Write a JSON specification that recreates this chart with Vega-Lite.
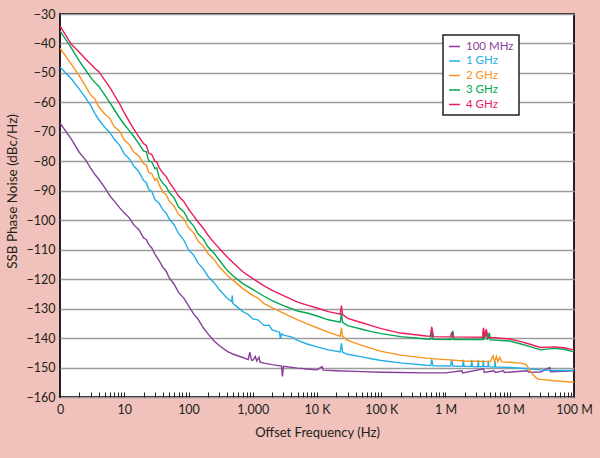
{
  "$schema": "https://vega.github.io/schema/vega-lite/v6.json",
  "width": 514,
  "height": 383,
  "autosize": {"type": "none"},
  "padding": {"left": 60, "top": 14, "right": 26, "bottom": 61},
  "background": "#f0c2bb",
  "config": {
    "view": {"fill": "white", "stroke": "#231f20", "strokeWidth": 2},
    "font": "Lato"
  },
  "data": {
    "values": [
      {"s":"100 MHz","f":1,"v":-67},{"s":"100 MHz","f":1.5,"v":-72.5},{"s":"100 MHz","f":2,"v":-77},{"s":"100 MHz","f":2.5,"v":-79.5},{"s":"100 MHz","f":3,"v":-82.3},{"s":"100 MHz","f":3.5,"v":-84.5},{"s":"100 MHz","f":4,"v":-86},{"s":"100 MHz","f":5,"v":-89},{"s":"100 MHz","f":6,"v":-91.8},{"s":"100 MHz","f":7,"v":-93.5},{"s":"100 MHz","f":8.5,"v":-95.8},{"s":"100 MHz","f":10,"v":-97.5},{"s":"100 MHz","f":12,"v":-99.2},{"s":"100 MHz","f":14,"v":-101.5},{"s":"100 MHz","f":17,"v":-103.3},{"s":"100 MHz","f":20,"v":-106},{"s":"100 MHz","f":22,"v":-106.5},{"s":"100 MHz","f":24,"v":-108.2},{"s":"100 MHz","f":27,"v":-109.5},{"s":"100 MHz","f":30,"v":-111.5},{"s":"100 MHz","f":35,"v":-113.8},{"s":"100 MHz","f":40,"v":-116},{"s":"100 MHz","f":45,"v":-117.3},{"s":"100 MHz","f":50,"v":-119.5},{"s":"100 MHz","f":60,"v":-121.8},{"s":"100 MHz","f":70,"v":-124.5},{"s":"100 MHz","f":85,"v":-126.5},{"s":"100 MHz","f":100,"v":-129},{"s":"100 MHz","f":120,"v":-131.8},{"s":"100 MHz","f":140,"v":-133.5},{"s":"100 MHz","f":170,"v":-136.5},{"s":"100 MHz","f":200,"v":-138.5},{"s":"100 MHz","f":250,"v":-141},{"s":"100 MHz","f":300,"v":-142.5},{"s":"100 MHz","f":400,"v":-144.5},{"s":"100 MHz","f":500,"v":-145.5},{"s":"100 MHz","f":700,"v":-146.6},{"s":"100 MHz","f":850,"v":-147.3},{"s":"100 MHz","f":900,"v":-144.8},{"s":"100 MHz","f":950,"v":-147.4},{"s":"100 MHz","f":1000,"v":-147.6},{"s":"100 MHz","f":1100,"v":-146.2},{"s":"100 MHz","f":1150,"v":-147.8},{"s":"100 MHz","f":1250,"v":-146.5},{"s":"100 MHz","f":1300,"v":-148.2},{"s":"100 MHz","f":1500,"v":-148.5},{"s":"100 MHz","f":2000,"v":-149},{"s":"100 MHz","f":2800,"v":-149.5},{"s":"100 MHz","f":2900,"v":-153},{"s":"100 MHz","f":3000,"v":-149.6},{"s":"100 MHz","f":5000,"v":-150.2},{"s":"100 MHz","f":7000,"v":-150.5},{"s":"100 MHz","f":10000,"v":-150.8},{"s":"100 MHz","f":12000,"v":-149.7},{"s":"100 MHz","f":12500,"v":-150.9},{"s":"100 MHz","f":20000,"v":-151.1},{"s":"100 MHz","f":50000,"v":-151.4},{"s":"100 MHz","f":100000,"v":-151.6},{"s":"100 MHz","f":200000,"v":-151.7},{"s":"100 MHz","f":500000,"v":-151.8},{"s":"100 MHz","f":1000000,"v":-151.8},{"s":"100 MHz","f":1800000,"v":-151.1},{"s":"100 MHz","f":1850000,"v":-151.8},{"s":"100 MHz","f":3900000,"v":-150.4},{"s":"100 MHz","f":4000000,"v":-151.7},{"s":"100 MHz","f":5700000,"v":-151.1},{"s":"100 MHz","f":6000000,"v":-151.7},{"s":"100 MHz","f":8000000,"v":-151.1},{"s":"100 MHz","f":8300000,"v":-151.7},{"s":"100 MHz","f":19000000,"v":-151.1},{"s":"100 MHz","f":20000000,"v":-151.6},{"s":"100 MHz","f":30000000,"v":-151.5},{"s":"100 MHz","f":42000000,"v":-150},{"s":"100 MHz","f":43000000,"v":-151.4},{"s":"100 MHz","f":100000000,"v":-151.1},

      {"s":"1 GHz","f":1,"v":-48},{"s":"1 GHz","f":1.5,"v":-52},{"s":"1 GHz","f":2,"v":-55.5},{"s":"1 GHz","f":2.5,"v":-58.5},{"s":"1 GHz","f":3,"v":-61},{"s":"1 GHz","f":3.5,"v":-63.8},{"s":"1 GHz","f":4,"v":-65.8},{"s":"1 GHz","f":5,"v":-68.5},{"s":"1 GHz","f":6,"v":-70.3},{"s":"1 GHz","f":7,"v":-72.5},{"s":"1 GHz","f":8.5,"v":-74.6},{"s":"1 GHz","f":10,"v":-77.5},{"s":"1 GHz","f":12,"v":-79.2},{"s":"1 GHz","f":14,"v":-81.5},{"s":"1 GHz","f":17,"v":-83.6},{"s":"1 GHz","f":20,"v":-86.5},{"s":"1 GHz","f":22,"v":-87.2},{"s":"1 GHz","f":24,"v":-89.5},{"s":"1 GHz","f":27,"v":-90.3},{"s":"1 GHz","f":30,"v":-93},{"s":"1 GHz","f":35,"v":-94.3},{"s":"1 GHz","f":40,"v":-96.5},{"s":"1 GHz","f":45,"v":-97.6},{"s":"1 GHz","f":50,"v":-99.5},{"s":"1 GHz","f":60,"v":-101.6},{"s":"1 GHz","f":70,"v":-104.5},{"s":"1 GHz","f":85,"v":-106.8},{"s":"1 GHz","f":100,"v":-110},{"s":"1 GHz","f":120,"v":-111.8},{"s":"1 GHz","f":140,"v":-114.5},{"s":"1 GHz","f":170,"v":-116.5},{"s":"1 GHz","f":200,"v":-119},{"s":"1 GHz","f":250,"v":-121.2},{"s":"1 GHz","f":300,"v":-123.5},{"s":"1 GHz","f":400,"v":-126.5},{"s":"1 GHz","f":470,"v":-127.6},{"s":"1 GHz","f":480,"v":-125.6},{"s":"1 GHz","f":490,"v":-128.2},{"s":"1 GHz","f":700,"v":-131},{"s":"1 GHz","f":850,"v":-132},{"s":"1 GHz","f":1000,"v":-133.5},{"s":"1 GHz","f":1200,"v":-133.8},{"s":"1 GHz","f":1500,"v":-135.7},{"s":"1 GHz","f":1800,"v":-135.6},{"s":"1 GHz","f":2000,"v":-137.2},{"s":"1 GHz","f":2600,"v":-138},{"s":"1 GHz","f":2700,"v":-140.3},{"s":"1 GHz","f":2800,"v":-138.5},{"s":"1 GHz","f":3000,"v":-139},{"s":"1 GHz","f":4000,"v":-139.6},{"s":"1 GHz","f":5000,"v":-140.8},{"s":"1 GHz","f":7000,"v":-142},{"s":"1 GHz","f":10000,"v":-143},{"s":"1 GHz","f":15000,"v":-144},{"s":"1 GHz","f":23000,"v":-144.7},{"s":"1 GHz","f":24000,"v":-141.8},{"s":"1 GHz","f":25000,"v":-144.8},{"s":"1 GHz","f":30000,"v":-145.5},{"s":"1 GHz","f":50000,"v":-146.4},{"s":"1 GHz","f":70000,"v":-147},{"s":"1 GHz","f":100000,"v":-147.6},{"s":"1 GHz","f":200000,"v":-148.4},{"s":"1 GHz","f":500000,"v":-149.2},{"s":"1 GHz","f":590000,"v":-149.3},{"s":"1 GHz","f":610000,"v":-147.2},{"s":"1 GHz","f":640000,"v":-149.4},{"s":"1 GHz","f":1200000,"v":-149.5},{"s":"1 GHz","f":1250000,"v":-147.3},{"s":"1 GHz","f":1300000,"v":-149.5},{"s":"1 GHz","f":1850000,"v":-149.6},{"s":"1 GHz","f":1890000,"v":-147.4},{"s":"1 GHz","f":1950000,"v":-149.6},{"s":"1 GHz","f":2500000,"v":-149.6},{"s":"1 GHz","f":2560000,"v":-147.4},{"s":"1 GHz","f":2620000,"v":-149.6},{"s":"1 GHz","f":3180000,"v":-149.7},{"s":"1 GHz","f":3240000,"v":-147.5},{"s":"1 GHz","f":3300000,"v":-149.7},{"s":"1 GHz","f":3820000,"v":-149.7},{"s":"1 GHz","f":3880000,"v":-147.5},{"s":"1 GHz","f":3940000,"v":-149.7},{"s":"1 GHz","f":4580000,"v":-149.7},{"s":"1 GHz","f":4640000,"v":-147.6},{"s":"1 GHz","f":4700000,"v":-149.7},{"s":"1 GHz","f":5800000,"v":-149.8},{"s":"1 GHz","f":5900000,"v":-147.8},{"s":"1 GHz","f":6000000,"v":-149.8},{"s":"1 GHz","f":10000000,"v":-150},{"s":"1 GHz","f":20000000,"v":-150.4},{"s":"1 GHz","f":30000000,"v":-150.8},{"s":"1 GHz","f":50000000,"v":-151},{"s":"1 GHz","f":100000000,"v":-151},

      {"s":"2 GHz","f":1,"v":-41.6},{"s":"2 GHz","f":1.5,"v":-47},{"s":"2 GHz","f":2,"v":-51},{"s":"2 GHz","f":2.5,"v":-54.5},{"s":"2 GHz","f":3,"v":-57.5},{"s":"2 GHz","f":3.5,"v":-58.8},{"s":"2 GHz","f":4,"v":-61.5},{"s":"2 GHz","f":5,"v":-64},{"s":"2 GHz","f":6,"v":-65.5},{"s":"2 GHz","f":7,"v":-68.3},{"s":"2 GHz","f":8.5,"v":-69.8},{"s":"2 GHz","f":10,"v":-72.8},{"s":"2 GHz","f":12,"v":-74.3},{"s":"2 GHz","f":14,"v":-76.8},{"s":"2 GHz","f":17,"v":-78.3},{"s":"2 GHz","f":20,"v":-80.8},{"s":"2 GHz","f":22,"v":-81.2},{"s":"2 GHz","f":24,"v":-83.8},{"s":"2 GHz","f":27,"v":-84.2},{"s":"2 GHz","f":30,"v":-86.5},{"s":"2 GHz","f":32,"v":-85.8},{"s":"2 GHz","f":35,"v":-88},{"s":"2 GHz","f":40,"v":-90.5},{"s":"2 GHz","f":45,"v":-91.3},{"s":"2 GHz","f":50,"v":-93.5},{"s":"2 GHz","f":60,"v":-95.3},{"s":"2 GHz","f":70,"v":-98},{"s":"2 GHz","f":85,"v":-99.6},{"s":"2 GHz","f":100,"v":-102.5},{"s":"2 GHz","f":120,"v":-104.2},{"s":"2 GHz","f":140,"v":-107},{"s":"2 GHz","f":170,"v":-108.8},{"s":"2 GHz","f":200,"v":-111.3},{"s":"2 GHz","f":250,"v":-113.3},{"s":"2 GHz","f":300,"v":-115.8},{"s":"2 GHz","f":400,"v":-118.7},{"s":"2 GHz","f":500,"v":-120.5},{"s":"2 GHz","f":700,"v":-123.2},{"s":"2 GHz","f":1000,"v":-125.5},{"s":"2 GHz","f":1200,"v":-126.4},{"s":"2 GHz","f":1500,"v":-128.3},{"s":"2 GHz","f":2000,"v":-129.7},{"s":"2 GHz","f":3000,"v":-131.5},{"s":"2 GHz","f":5000,"v":-133.8},{"s":"2 GHz","f":7000,"v":-135.2},{"s":"2 GHz","f":10000,"v":-136.5},{"s":"2 GHz","f":15000,"v":-138},{"s":"2 GHz","f":23000,"v":-139.4},{"s":"2 GHz","f":24000,"v":-136.5},{"s":"2 GHz","f":25000,"v":-139.5},{"s":"2 GHz","f":30000,"v":-140.8},{"s":"2 GHz","f":50000,"v":-142.5},{"s":"2 GHz","f":70000,"v":-143.5},{"s":"2 GHz","f":100000,"v":-144.5},{"s":"2 GHz","f":200000,"v":-145.8},{"s":"2 GHz","f":500000,"v":-146.8},{"s":"2 GHz","f":1000000,"v":-147.3},{"s":"2 GHz","f":2000000,"v":-147.8},{"s":"2 GHz","f":5000000,"v":-148},{"s":"2 GHz","f":5500000,"v":-146},{"s":"2 GHz","f":5800000,"v":-148},{"s":"2 GHz","f":6200000,"v":-146.2},{"s":"2 GHz","f":6500000,"v":-148},{"s":"2 GHz","f":7000000,"v":-146.5},{"s":"2 GHz","f":7500000,"v":-148.1},{"s":"2 GHz","f":10000000,"v":-148.2},{"s":"2 GHz","f":15000000,"v":-148.5},{"s":"2 GHz","f":18000000,"v":-149},{"s":"2 GHz","f":20000000,"v":-150.5},{"s":"2 GHz","f":23000000,"v":-152.5},{"s":"2 GHz","f":27000000,"v":-153.8},{"s":"2 GHz","f":30000000,"v":-154},{"s":"2 GHz","f":50000000,"v":-154.5},{"s":"2 GHz","f":100000000,"v":-155},

      {"s":"3 GHz","f":1,"v":-35.7},{"s":"3 GHz","f":1.5,"v":-41.5},{"s":"3 GHz","f":2,"v":-46},{"s":"3 GHz","f":2.5,"v":-49},{"s":"3 GHz","f":3,"v":-51.5},{"s":"3 GHz","f":3.5,"v":-53.3},{"s":"3 GHz","f":4,"v":-54.5},{"s":"3 GHz","f":5,"v":-57.5},{"s":"3 GHz","f":6,"v":-60.2},{"s":"3 GHz","f":7,"v":-62.5},{"s":"3 GHz","f":8.5,"v":-65.3},{"s":"3 GHz","f":10,"v":-67.5},{"s":"3 GHz","f":12,"v":-69.6},{"s":"3 GHz","f":14,"v":-71.5},{"s":"3 GHz","f":17,"v":-74.2},{"s":"3 GHz","f":20,"v":-76.5},{"s":"3 GHz","f":22,"v":-76.8},{"s":"3 GHz","f":24,"v":-79.8},{"s":"3 GHz","f":27,"v":-80.3},{"s":"3 GHz","f":30,"v":-82.5},{"s":"3 GHz","f":32,"v":-82.2},{"s":"3 GHz","f":35,"v":-85.6},{"s":"3 GHz","f":40,"v":-87.5},{"s":"3 GHz","f":45,"v":-88.6},{"s":"3 GHz","f":50,"v":-90.5},{"s":"3 GHz","f":60,"v":-92.5},{"s":"3 GHz","f":70,"v":-95.5},{"s":"3 GHz","f":85,"v":-97.2},{"s":"3 GHz","f":100,"v":-100},{"s":"3 GHz","f":120,"v":-101.9},{"s":"3 GHz","f":140,"v":-104.5},{"s":"3 GHz","f":170,"v":-106.4},{"s":"3 GHz","f":200,"v":-109},{"s":"3 GHz","f":250,"v":-111.2},{"s":"3 GHz","f":300,"v":-113.5},{"s":"3 GHz","f":400,"v":-117},{"s":"3 GHz","f":500,"v":-119},{"s":"3 GHz","f":700,"v":-121.5},{"s":"3 GHz","f":1000,"v":-123.5},{"s":"3 GHz","f":1500,"v":-125.8},{"s":"3 GHz","f":2000,"v":-127.3},{"s":"3 GHz","f":3000,"v":-129},{"s":"3 GHz","f":5000,"v":-130.8},{"s":"3 GHz","f":7000,"v":-131.5},{"s":"3 GHz","f":10000,"v":-132.5},{"s":"3 GHz","f":15000,"v":-133.8},{"s":"3 GHz","f":23000,"v":-134.6},{"s":"3 GHz","f":24000,"v":-131.5},{"s":"3 GHz","f":25000,"v":-134.7},{"s":"3 GHz","f":30000,"v":-135.8},{"s":"3 GHz","f":50000,"v":-137},{"s":"3 GHz","f":70000,"v":-137.8},{"s":"3 GHz","f":100000,"v":-138.5},{"s":"3 GHz","f":200000,"v":-139.5},{"s":"3 GHz","f":500000,"v":-140.3},{"s":"3 GHz","f":590000,"v":-140.4},{"s":"3 GHz","f":610000,"v":-137.5},{"s":"3 GHz","f":640000,"v":-140.4},{"s":"3 GHz","f":1250000,"v":-140.5},{"s":"3 GHz","f":1300000,"v":-137.5},{"s":"3 GHz","f":1350000,"v":-140.5},{"s":"3 GHz","f":3800000,"v":-140.5},{"s":"3 GHz","f":3900000,"v":-137.2},{"s":"3 GHz","f":4000000,"v":-140.5},{"s":"3 GHz","f":4300000,"v":-137.8},{"s":"3 GHz","f":4500000,"v":-140.6},{"s":"3 GHz","f":4800000,"v":-138.2},{"s":"3 GHz","f":5000000,"v":-140.6},{"s":"3 GHz","f":10000000,"v":-141},{"s":"3 GHz","f":15000000,"v":-142},{"s":"3 GHz","f":20000000,"v":-142.8},{"s":"3 GHz","f":30000000,"v":-144},{"s":"3 GHz","f":50000000,"v":-143.5},{"s":"3 GHz","f":70000000,"v":-143.8},{"s":"3 GHz","f":100000000,"v":-144.7},

      {"s":"4 GHz","f":1,"v":-34},{"s":"4 GHz","f":1.5,"v":-40.3},{"s":"4 GHz","f":2,"v":-43},{"s":"4 GHz","f":2.5,"v":-45.3},{"s":"4 GHz","f":3,"v":-47},{"s":"4 GHz","f":3.5,"v":-48.5},{"s":"4 GHz","f":4,"v":-49.5},{"s":"4 GHz","f":5,"v":-52.5},{"s":"4 GHz","f":6,"v":-55},{"s":"4 GHz","f":7,"v":-57.5},{"s":"4 GHz","f":8.5,"v":-60.5},{"s":"4 GHz","f":10,"v":-63.5},{"s":"4 GHz","f":12,"v":-66.5},{"s":"4 GHz","f":14,"v":-69},{"s":"4 GHz","f":17,"v":-71.8},{"s":"4 GHz","f":20,"v":-74},{"s":"4 GHz","f":22,"v":-74.6},{"s":"4 GHz","f":24,"v":-77.2},{"s":"4 GHz","f":27,"v":-77.8},{"s":"4 GHz","f":30,"v":-80},{"s":"4 GHz","f":32,"v":-80.2},{"s":"4 GHz","f":35,"v":-82.2},{"s":"4 GHz","f":40,"v":-84},{"s":"4 GHz","f":45,"v":-85.2},{"s":"4 GHz","f":50,"v":-87},{"s":"4 GHz","f":60,"v":-89.5},{"s":"4 GHz","f":70,"v":-91.8},{"s":"4 GHz","f":85,"v":-93.7},{"s":"4 GHz","f":100,"v":-96.2},{"s":"4 GHz","f":120,"v":-98.5},{"s":"4 GHz","f":140,"v":-100.5},{"s":"4 GHz","f":170,"v":-102.7},{"s":"4 GHz","f":200,"v":-105},{"s":"4 GHz","f":250,"v":-107.6},{"s":"4 GHz","f":300,"v":-109.5},{"s":"4 GHz","f":400,"v":-112.5},{"s":"4 GHz","f":500,"v":-114.5},{"s":"4 GHz","f":700,"v":-117.5},{"s":"4 GHz","f":1000,"v":-119.8},{"s":"4 GHz","f":1500,"v":-122.3},{"s":"4 GHz","f":2000,"v":-123.8},{"s":"4 GHz","f":3000,"v":-125.6},{"s":"4 GHz","f":5000,"v":-127.8},{"s":"4 GHz","f":7000,"v":-128.8},{"s":"4 GHz","f":10000,"v":-129.8},{"s":"4 GHz","f":15000,"v":-131},{"s":"4 GHz","f":23000,"v":-131.9},{"s":"4 GHz","f":24000,"v":-129},{"s":"4 GHz","f":25000,"v":-132},{"s":"4 GHz","f":30000,"v":-133.3},{"s":"4 GHz","f":50000,"v":-134.8},{"s":"4 GHz","f":70000,"v":-135.8},{"s":"4 GHz","f":100000,"v":-136.8},{"s":"4 GHz","f":200000,"v":-138.3},{"s":"4 GHz","f":500000,"v":-139.3},{"s":"4 GHz","f":580000,"v":-139.4},{"s":"4 GHz","f":610000,"v":-136.2},{"s":"4 GHz","f":650000,"v":-139.5},{"s":"4 GHz","f":1200000,"v":-139.6},{"s":"4 GHz","f":1250000,"v":-138},{"s":"4 GHz","f":1300000,"v":-139.6},{"s":"4 GHz","f":3800000,"v":-139.7},{"s":"4 GHz","f":3900000,"v":-136.5},{"s":"4 GHz","f":4100000,"v":-139.7},{"s":"4 GHz","f":4300000,"v":-137},{"s":"4 GHz","f":4600000,"v":-139.8},{"s":"4 GHz","f":5000000,"v":-139.8},{"s":"4 GHz","f":10000000,"v":-140.3},{"s":"4 GHz","f":15000000,"v":-141.2},{"s":"4 GHz","f":20000000,"v":-142},{"s":"4 GHz","f":30000000,"v":-143.2},{"s":"4 GHz","f":50000000,"v":-143},{"s":"4 GHz","f":70000000,"v":-143.3},{"s":"4 GHz","f":100000000,"v":-144}
    ]
  },
  "mark": {"type": "line", "strokeWidth": 1.4, "clip": true},
  "encoding": {
    "x": {
      "field": "f", "type": "quantitative",
      "scale": {"type": "log", "domain": [1, 100000000]},
      "axis": {
        "title": "Offset Frequency (Hz)",
        "zindex": 1,
        "offset": -5,
        "values": [1,2,3,4,5,6,7,8,9,10,20,30,40,50,60,70,80,90,100,200,300,400,500,600,700,800,900,1000,2000,3000,4000,5000,6000,7000,8000,9000,10000,20000,30000,40000,50000,60000,70000,80000,90000,100000,200000,300000,400000,500000,600000,700000,800000,900000,1000000,2000000,3000000,4000000,5000000,6000000,7000000,8000000,9000000,10000000,20000000,30000000,40000000,50000000,60000000,70000000,80000000,90000000,100000000],
        "labelExpr": "datum.value == 1 ? '0' : datum.value == 10 ? '10' : datum.value == 100 ? '100' : datum.value == 1000 ? '1,000' : datum.value == 10000 ? '10 K' : datum.value == 100000 ? '100 K' : datum.value == 1000000 ? '1 M' : datum.value == 10000000 ? '10 M' : datum.value == 100000000 ? '100 M' : ''",
        "labelOverlap": false,
        "labelFlush": false,
        "labelFontSize": 12.5,
        "labelColor": "#231f20",
        "labelPadding": 6,
        "tickSize": 5,
        "tickColor": "#231f20",
        "tickWidth": 1,
        "domain": false,
        "grid": false,
        "titleFontSize": 13,
        "titleFontWeight": "normal",
        "titleColor": "#231f20",
        "titlePadding": 11
      }
    },
    "y": {
      "field": "v", "type": "quantitative",
      "scale": {"domain": [-160, -30]},
      "axis": {
        "title": "SSB Phase Noise (dBc/Hz)",
        "titleY": 177,
        "values": [-160,-150,-140,-130,-120,-110,-100,-90,-80,-70,-60,-50,-40,-30],
        "grid": true,
        "gridColor": "#9c9c9c",
        "gridWidth": 1.5,
        "ticks": false,
        "domain": false,
        "labelFontSize": 12.5,
        "labelColor": "#231f20",
        "labelPadding": 5,
        "titleFontSize": 13.5,
        "titleFontWeight": "normal",
        "titleColor": "#231f20",
        "titlePadding": 7
      }
    },
    "color": {
      "field": "s", "type": "nominal",
      "scale": {
        "domain": ["100 MHz", "1 GHz", "2 GHz", "3 GHz", "4 GHz"],
        "range": ["#8a3e9c", "#22aee6", "#f7941d", "#00a651", "#ec1c5b"]
      },
      "legend": {
        "title": null,
        "orient": "none",
        "legendX": 383,
        "legendY": 21,
        "symbolType": "stroke",
        "symbolSize": 121,
        "symbolStrokeWidth": 1.5,
        "labelFontSize": 11.5,
        "labelOffset": 5,
        "labelLimit": 0,
        "rowPadding": 2.5,
        "padding": 5,
        "strokeColor": "#231f20",
        "fillColor": "white",
        "encode": {
          "labels": {"update": {"fill": {"scale": "color", "field": "value"}}},
          "legend": {"update": {"strokeWidth": {"value": 1.5}}}
        }
      }
    }
  }
}
